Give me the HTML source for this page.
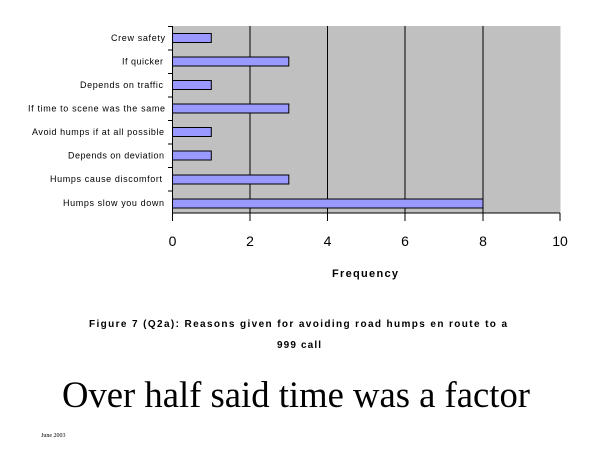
<!DOCTYPE html>
<html><head><style>
html,body{margin:0;padding:0;background:#fff;width:600px;height:450px;overflow:hidden}
svg{display:block}
</style></head><body>
<svg width="600" height="450" xmlns="http://www.w3.org/2000/svg" font-family="Liberation Sans, Arial, sans-serif">
<rect x="172.5" y="26" width="388" height="187" fill="#c0c0c0"/>
<g stroke="#000" stroke-width="1">
<line x1="250" y1="26" x2="250" y2="213"/>
<line x1="327.5" y1="26" x2="327.5" y2="213"/>
<line x1="405" y1="26" x2="405" y2="213"/>
<line x1="483" y1="26" x2="483" y2="213"/>
<line x1="172.5" y1="26" x2="172.5" y2="213"/>
<line x1="172.5" y1="213" x2="560" y2="213"/>
<line x1="168" y1="26.5" x2="172.5" y2="26.5"/>
<line x1="168" y1="50" x2="172.5" y2="50"/>
<line x1="168" y1="73.5" x2="172.5" y2="73.5"/>
<line x1="168" y1="97" x2="172.5" y2="97"/>
<line x1="168" y1="120.5" x2="172.5" y2="120.5"/>
<line x1="168" y1="144" x2="172.5" y2="144"/>
<line x1="168" y1="167.5" x2="172.5" y2="167.5"/>
<line x1="168" y1="191" x2="172.5" y2="191"/>
<line x1="172.5" y1="213" x2="172.5" y2="221"/>
<line x1="250" y1="213" x2="250" y2="221"/>
<line x1="327.5" y1="213" x2="327.5" y2="221"/>
<line x1="405" y1="213" x2="405" y2="221"/>
<line x1="483" y1="213" x2="483" y2="221"/>
<line x1="560" y1="213" x2="560" y2="221"/>
</g>
<g fill="#9999ff" stroke="#000" stroke-width="1">
<rect x="172.5" y="33.5" width="38.8" height="9"/>
<rect x="172.5" y="57" width="116.3" height="9"/>
<rect x="172.5" y="80.5" width="38.8" height="9"/>
<rect x="172.5" y="104" width="116.3" height="9"/>
<rect x="172.5" y="127.5" width="38.8" height="9"/>
<rect x="172.5" y="151" width="38.8" height="9"/>
<rect x="172.5" y="175" width="116.3" height="9"/>
<rect x="172.5" y="199" width="310.5" height="9"/>
</g>
<g font-size="9" fill="#000" lengthAdjust="spacing">
<text x="111" y="41" textLength="54" lengthAdjust="spacing">Crew safety</text>
<text x="122" y="64.5" textLength="41" lengthAdjust="spacing">If quicker</text>
<text x="80" y="88" textLength="83" lengthAdjust="spacing">Depends on traffic</text>
<text x="28" y="111.5" textLength="137" lengthAdjust="spacing">If time to scene was the same</text>
<text x="32" y="135" textLength="132" lengthAdjust="spacing">Avoid humps if at all possible</text>
<text x="68" y="158.5" textLength="96" lengthAdjust="spacing">Depends on deviation</text>
<text x="50" y="182" textLength="112" lengthAdjust="spacing">Humps cause discomfort</text>
<text x="63" y="206" textLength="101" lengthAdjust="spacing">Humps slow you down</text>
</g>
<g font-size="14" text-anchor="middle">
<text x="172.5" y="246">0</text>
<text x="250" y="246">2</text>
<text x="327.5" y="246">4</text>
<text x="405" y="246">6</text>
<text x="483" y="246">8</text>
<text x="560" y="246">10</text>
</g>
<text x="332" y="277" font-size="11" font-weight="bold" textLength="66" lengthAdjust="spacing">Frequency</text>
<text x="89" y="327" font-size="10" font-weight="bold" textLength="418" lengthAdjust="spacing">Figure 7 (Q2a):  Reasons given for avoiding road humps en route to a</text>
<text x="277" y="348" font-size="10" font-weight="bold" textLength="44" lengthAdjust="spacing">999 call</text>
<text x="62" y="407" font-family="Liberation Serif, Times New Roman, serif" font-size="37" textLength="468" lengthAdjust="spacingAndGlyphs">Over half said time was a factor</text>
<text x="41" y="437" font-family="Liberation Serif, serif" font-size="6">June 2003</text>
</svg>
</body></html>
